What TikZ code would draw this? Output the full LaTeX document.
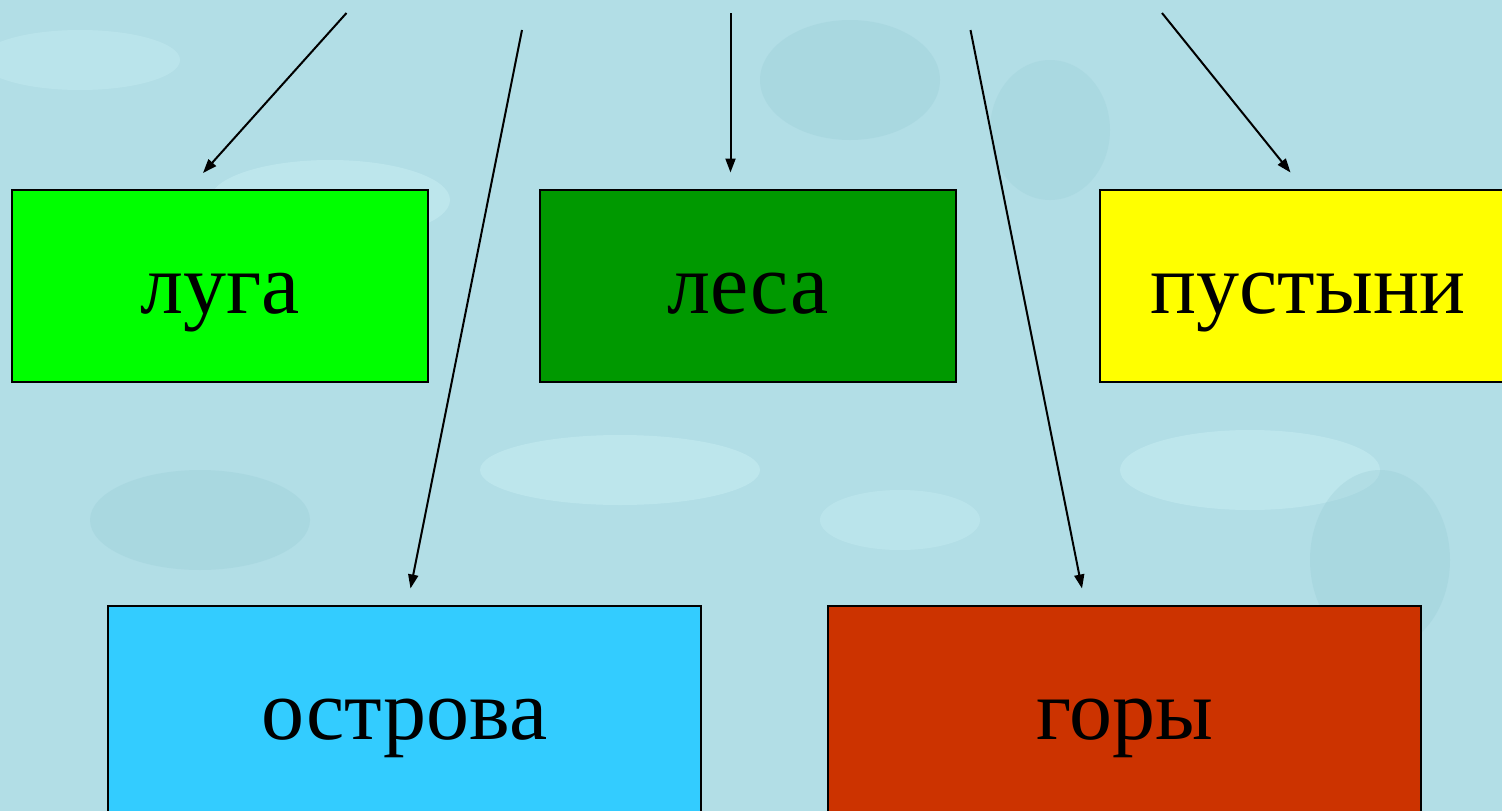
\documentclass[tikz,border=0pt]{standalone}
\usepackage{fontspec}
\setmainfont{Liberation Serif}
\usetikzlibrary{arrows.meta}
\definecolor{water}{RGB}{178,222,230}
\definecolor{waterlight}{RGB}{200,238,243}
\definecolor{waterdark}{RGB}{150,203,212}
\definecolor{meadow}{RGB}{0,255,0}
\definecolor{forest}{RGB}{0,153,0}
\definecolor{desert}{RGB}{255,255,0}
\definecolor{island}{RGB}{51,204,255}
\definecolor{mountain}{RGB}{204,51,0}
\begin{document}
\begin{tikzpicture}[x=1pt,y=-1pt,
    zone/.style={draw=black, line width=2.5pt, anchor=north west, inner sep=0pt,
        font=\fontsize{86}{100}\selectfont, text height=70pt, text depth=15pt},
    arr/.style={line width=2pt, -{Triangle[length=14pt,width=10pt]}}]
    \useasboundingbox (0,0) rectangle (1502,811);
    \clip (0,0) rectangle (1502,811);
    \fill[water] (0,0) rectangle (1502,811);
    \fill[waterlight, opacity=0.5] (330,200) ellipse (120 and 40);
    \fill[waterdark, opacity=0.3] (850,80) ellipse (90 and 60);
    \fill[waterlight, opacity=0.5] (620,470) ellipse (140 and 35);
    \fill[waterdark, opacity=0.3] (200,520) ellipse (110 and 50);
    \fill[waterlight, opacity=0.5] (1250,470) ellipse (130 and 40);
    \fill[waterdark, opacity=0.3] (1380,560) ellipse (70 and 90);
    \fill[waterlight, opacity=0.4] (80,60) ellipse (100 and 30);
    \fill[waterdark, opacity=0.25] (1050,130) ellipse (60 and 70);
    \fill[waterlight, opacity=0.4] (900,520) ellipse (80 and 30);
    \node[zone, fill=meadow, minimum width=416pt, minimum height=192pt] (luga) at (10.7,188.7) {луга};
    \node[zone, fill=forest, minimum width=416pt, minimum height=192pt] (lesa) at (538.7,188.7) {леса};
    \node[zone, fill=desert, minimum width=416pt, minimum height=192pt] (pustyni) at (1098.7,188.7) {пустыни};
    \node[zone, fill=island, minimum width=593pt, minimum height=212pt] (ostrova) at (106.7,604.7) {острова};
    \node[zone, fill=mountain, minimum width=593pt, minimum height=212pt] (gory) at (826.7,604.7) {горы};
    \coordinate (s1) at (346.5,13);
    \coordinate (t1) at (203,173);
    \coordinate (s2) at (522,30);
    \coordinate (t2) at (410.5,588.5);
    \coordinate (s3) at (730.5,13);
    \coordinate (t3) at (730.5,172.5);
    \coordinate (s4) at (970.5,30);
    \coordinate (t4) at (1082,588.5);
    \coordinate (s5) at (1162,13);
    \coordinate (t5) at (1290.5,172.5);
    \draw[arr] (s1) -- (t1);
    \draw[arr] (s2) -- (t2);
    \draw[arr] (s3) -- (t3);
    \draw[arr] (s4) -- (t4);
    \draw[arr] (s5) -- (t5);
\end{tikzpicture}
\end{document}
